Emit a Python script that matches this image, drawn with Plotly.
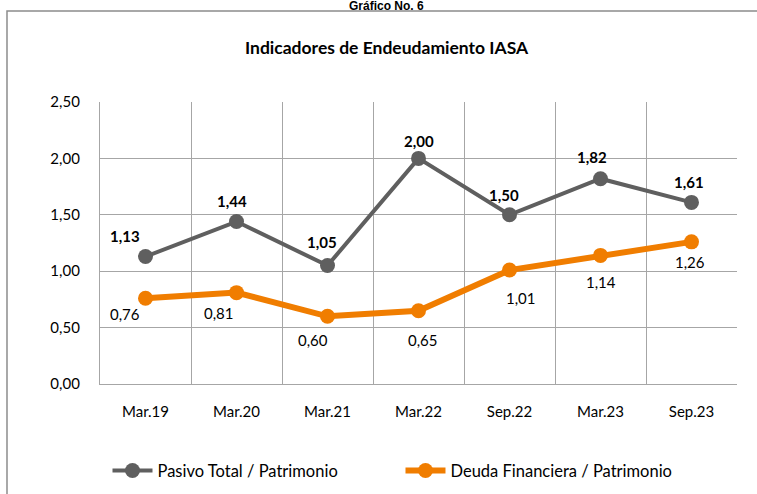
import plotly.graph_objects as go

categories = ["Mar.19", "Mar.20", "Mar.21", "Mar.22", "Sep.22", "Mar.23", "Sep.23"]
pasivo_total = [1.13, 1.44, 1.05, 2.00, 1.50, 1.82, 1.61]
deuda_financiera = [0.76, 0.81, 0.60, 0.65, 1.01, 1.14, 1.26]
y_ticks = [0, 0.5, 1.0, 1.5, 2.0, 2.5]

# label offsets (style, pixels)
gray_shift = [(-21, 21), (-5, 21), (-6, 24), (0, 17), (-6, 20), (-9, 22), (-3, 20)]
orange_shift = [(-21, -16), (-18, -20), (-15, -24), (4, -29), (11, -28), (0, -27), (-2, -20)]

GRAY = "#5f5f5f"
ORANGE = "#f07d00"
GRID = "#a6a6a6"
FONT = "Lato"

fig = go.Figure()
fig.add_trace(go.Scatter(
    x=categories, y=pasivo_total, mode="lines+markers",
    name="Pasivo Total / Patrimonio",
    line=dict(color=GRAY, width=4),
    marker=dict(color=GRAY, size=15),
))
fig.add_trace(go.Scatter(
    x=categories, y=deuda_financiera, mode="lines+markers",
    name="Deuda Financiera / Patrimonio",
    line=dict(color=ORANGE, width=6),
    marker=dict(color=ORANGE, size=15),
))

def fmt(v):
    return f"{v:.2f}".replace(".", ",")

annotations = []
for c, v, (dx, dy) in zip(categories, pasivo_total, gray_shift):
    annotations.append(dict(x=c, y=v, text=f"<b>{fmt(v)}</b>", showarrow=False,
                            xshift=dx, yshift=dy,
                            font=dict(family=FONT, size=15, color="#000000")))
for c, v, (dx, dy) in zip(categories, deuda_financiera, orange_shift):
    annotations.append(dict(x=c, y=v, text=fmt(v), showarrow=False,
                            xshift=dx, yshift=dy,
                            font=dict(family=FONT, size=15, color="#000000")))

annotations.append(dict(xref="paper", yref="paper", x=0.449, y=1.372,
                        text="<b>Gráfico No. 6</b>", showarrow=False,
                        xanchor="center", yanchor="top",
                        font=dict(family="Liberation Sans", size=12, color="#000000")))
annotations.append(dict(xref="paper", yref="paper", x=0.451, y=1.195,
                        text="<b>Indicadores de Endeudamiento IASA</b>", showarrow=False,
                        xanchor="center", yanchor="middle",
                        font=dict(family=FONT, size=17.5, color="#000000")))

fig.update_layout(
    width=757, height=494,
    margin=dict(l=100, r=20, t=102, b=110),
    paper_bgcolor="white", plot_bgcolor="white",
    separators=",.",
    font=dict(family=FONT, size=15, color="#000000"),
    showlegend=True,
    legend=dict(orientation="h", xref="container", yref="container",
                x=0.142, xanchor="left", y=0.047, yanchor="middle",
                font=dict(family=FONT, size=16.5, color="#000000"),
                itemwidth=40, entrywidth=238, entrywidthmode="pixels",
                bgcolor="rgba(0,0,0,0)"),
    annotations=annotations,
    shapes=[dict(type="rect", xref="paper", yref="paper",
                 x0=-0.146, x1=1.06, y0=-0.45, y1=1.3227,
                 line=dict(color="#8c8c8c", width=1.5), layer="below")],
)
fig.update_xaxes(
    type="category", tickson="boundaries", showgrid=True, gridcolor=GRID, gridwidth=1.3,
    showline=True, linecolor=GRID, linewidth=1.3, ticks="", ticklabelstandoff=14,
    range=[-0.5, len(categories) - 0.5], zeroline=False,
    tickfont=dict(family=FONT, size=15),
)
fig.update_yaxes(
    range=[0, 2.5], tickvals=y_ticks, tickformat=".2f", showgrid=True, gridcolor=GRID,
    gridwidth=1.3, showline=True, linecolor=GRID, linewidth=1.3, ticks="",
    ticklabelstandoff=16, zeroline=False, tickfont=dict(family=FONT, size=15),
)

fig.write_html("out.html", config={"displayModeBar": False},
               post_script="document.body.style.margin='0';")
